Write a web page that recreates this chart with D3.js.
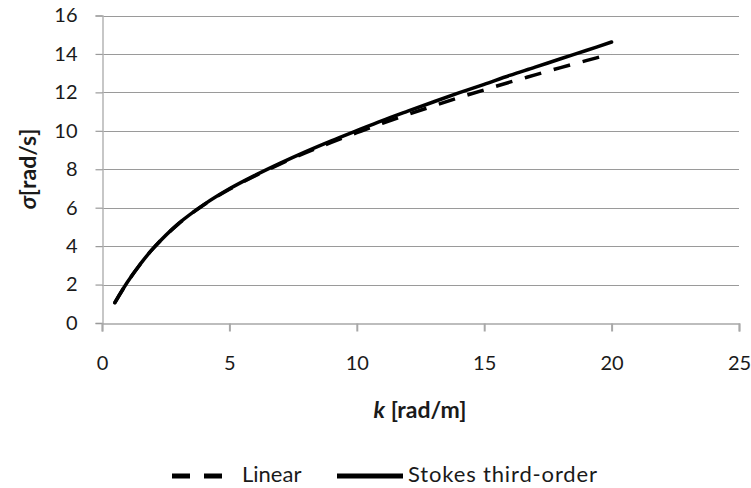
<!DOCTYPE html>
<html>
<head>
<meta charset="utf-8">
<script src="https://cdn.jsdelivr.net/npm/d3@7"></script>
<style>
  body { margin: 0; background: #fff; }
  text { font-family: Lato, "Open Sans", sans-serif; fill: #1a1a1a; }
</style>
</head>
<body>
<div id="chart"></div>
<script>
// wavenumber k [rad/m]
var kValues = [0.5, 1, 1.5, 2, 3, 4, 5, 6, 7, 8, 9, 10, 11, 12, 13, 14, 15, 16, 17, 18, 19, 20];
// angular frequency sigma [rad/s]
var linearValues = [1.05, 2.13, 3.06, 3.87, 5.16, 6.15, 6.96, 7.65, 8.28, 8.86, 9.40, 9.90, 10.39, 10.85, 11.29, 11.72, 12.13, 12.53, 12.91, 13.29, 13.65, 14.01];
var stokesValues = [1.05, 2.13, 3.06, 3.87, 5.17, 6.16, 6.98, 7.68, 8.32, 8.92, 9.48, 10.01, 10.53, 11.02, 11.50, 11.97, 12.42, 12.88, 13.31, 13.75, 14.18, 14.62];
var xTicks = [0, 5, 10, 15, 20, 25];
var yTicks = [0, 2, 4, 6, 8, 10, 12, 14, 16];
var seriesNames = ["Linear", "Stokes third-order"];

var width = 751,
    height = 488;

var x = d3.scaleLinear().domain([0, 25]).range([102, 739]);
var y = d3.scaleLinear().domain([0, 16]).range([323, 15.5]);

var svg = d3.select("#chart").append("svg")
    .attr("width", width)
    .attr("height", height);

// gridlines
svg.append("g")
    .selectAll("line")
    .data(yTicks.slice(1))
  .enter().append("line")
    .attr("x1", x(0))
    .attr("x2", x(25))
    .attr("y1", function(d) { return Math.round(y(d)) + 0.5; })
    .attr("y2", function(d) { return Math.round(y(d)) + 0.5; })
    .attr("stroke", "#9a9a9a")
    .attr("stroke-width", 1.2);

// y axis
var yAxis = svg.append("g")
    .attr("transform", "translate(" + (x(0) + 0.5) + ",0)")
    .call(d3.axisLeft(y).tickValues(yTicks).tickSize(7).tickPadding(18));
yAxis.select(".domain").attr("stroke", "#b5b5b5").attr("stroke-width", 1.5);
yAxis.selectAll(".tick line").attr("stroke", "#9a9a9a").attr("stroke-width", 1.2);
yAxis.selectAll(".tick text")
    .style("font-family", "Lato, sans-serif")
    .style("font-size", "20px")
    .attr("fill", "#1a1a1a");

// x axis
var xAxis = svg.append("g")
    .attr("transform", "translate(0," + (Math.round(y(0)) + 0.5) + ")")
    .call(d3.axisBottom(x).tickValues(xTicks).tickSize(8).tickPadding(24));
xAxis.select(".domain").attr("stroke", "#a8a8a8").attr("stroke-width", 1.5);
xAxis.selectAll(".tick line").attr("stroke", "#a8a8a8").attr("stroke-width", 2);
xAxis.selectAll(".tick text")
    .style("font-family", "Lato, sans-serif")
    .style("font-size", "20px")
    .attr("fill", "#1a1a1a");

// series
var line = d3.line()
    .x(function(d) { return x(d[0]); })
    .y(function(d) { return y(d[1]); })
    .curve(d3.curveCatmullRom);

svg.append("path")
    .datum(d3.zip(kValues, linearValues))
    .attr("d", line)
    .attr("fill", "none")
    .attr("stroke", "#000")
    .attr("stroke-width", 3.5)
    .attr("stroke-dasharray", "17,13");

svg.append("path")
    .datum(d3.zip(kValues, stokesValues))
    .attr("d", line)
    .attr("fill", "none")
    .attr("stroke", "#000")
    .attr("stroke-width", 3.5)
    .attr("stroke-linecap", "round");

// axis titles
var xt = svg.append("text")
    .attr("x", 420)
    .attr("y", 418)
    .attr("text-anchor", "middle")
    .style("font-size", "23px")
    .style("font-weight", "bold");
xt.append("tspan").style("font-style", "italic").text("k");
xt.append("tspan").text(" [rad/m]");

var yt = svg.append("text")
    .attr("transform", "translate(36,169)rotate(-90)")
    .attr("text-anchor", "middle")
    .style("font-size", "23px")
    .style("font-weight", "bold");
yt.append("tspan").style("font-style", "italic").text("σ");
yt.append("tspan").text("[rad/s]");

// legend
var legend = svg.append("g");
legend.append("line")
    .attr("x1", 172).attr("x2", 224)
    .attr("y1", 476).attr("y2", 476)
    .attr("stroke", "#000")
    .attr("stroke-width", 5)
    .attr("stroke-dasharray", "18,14");
legend.append("text")
    .attr("x", 242).attr("y", 482)
    .style("font-size", "22px")
    .text(seriesNames[0]);
legend.append("line")
    .attr("x1", 337).attr("x2", 403)
    .attr("y1", 476).attr("y2", 476)
    .attr("stroke", "#000")
    .attr("stroke-width", 5);
legend.append("text")
    .attr("x", 408).attr("y", 482)
    .style("font-size", "22px")
    .attr("textLength", 189)
    .text(seriesNames[1]);
</script>
</body>
</html>
